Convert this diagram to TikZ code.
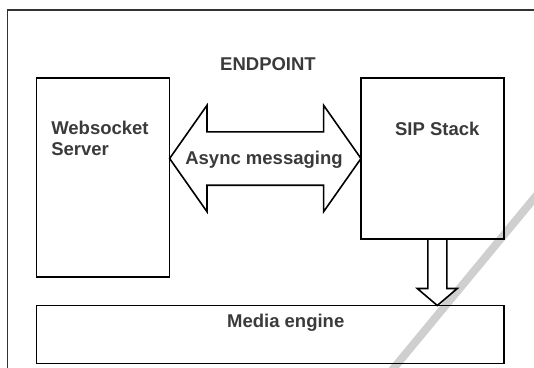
\documentclass[tikz,border=0pt]{standalone}
\usepackage{fontspec}
\setmainfont{Liberation Sans}
\usepackage{xcolor}
\usepackage{tikz}
\usetikzlibrary{positioning, calc}

\definecolor{labelgray}{HTML}{3A3A3A}
\definecolor{streakgray}{HTML}{CFCFCF}

\begin{document}
\begin{tikzpicture}[
      x=1pt, y=-1pt,
      font=\fontsize{18.5}{21}\selectfont\bfseries,
      box/.style={draw, rectangle, line width=1.6pt, inner sep=0pt,
          outer sep=0pt, anchor=north west},
      lbl/.style={text=labelgray, inner sep=0pt},
      fatarr/.style={draw, line width=1.6pt, line join=miter},
    ]
    \useasboundingbox (0,0) rectangle (534,367);
    \clip (0,0) rectangle (534,367);

    % light streak across the lower right
    \draw[streakgray, line width=8pt] (553,175.5) -- (384.5,379.3);

    % outer frame, cut off at right and bottom
    \draw[line width=1.8pt, black!80] (7.5,9.8) rectangle (600,420);

    \node[box, minimum width=133.2pt, minimum height=199.5pt] (ws) at (36.4,77.7) {};
    \node[box, minimum width=143pt, minimum height=161.3pt] (sip) at (361,77.7) {};
    \node[box, minimum width=467.6pt, minimum height=58pt] (media) at (36.4,305.5) {};

    \node[lbl, anchor=base] (endpt) at (268,70.7) {ENDPOINT};
    \node[lbl, align=left, below right=43pt and 14.7pt of ws.north west] (wslbl) {Websocket\\Server};
    \node[lbl, anchor=base] (siplbl) at (437.3,135) {SIP Stack};
    \node[lbl, anchor=base] (asynclbl) at (264,164.5) {Async messaging};
    \node[lbl, anchor=base] (medialbl) at (285.7,327.6) {Media engine};

    % double arrow between the servers
    \coordinate (msgy) at (0,158.5);
    \coordinate (dl) at (ws.east |- msgy);
    \coordinate (dr) at (sip.west |- msgy);
    \draw[fatarr] (dl) -- ++(37.4,-53.2) -- ++(0,26.5) -- ($(dr)+(-37.4,-26.7)$)
        -- ++(0,-26.5) -- (dr) -- ++(-37.4,53.2) -- ++(0,-26.5)
        -- ($(dl)+(37.4,26.7)$) -- ++(0,26.5) -- cycle;

    % arrow down to the media engine
    \coordinate (downx) at (437.3,0);
    \coordinate (st) at (sip.south -| downx);
    \coordinate (mt) at (media.north -| downx);
    \draw[fatarr] ($(st)+(-9.5,0)$) -- ($(mt)+(-9.5,-17)$) -- ++(-10.5,0) -- (mt)
        -- ++(20,-17) -- ++(-10.5,0) -- ($(st)+(9.5,0)$);

  \end{tikzpicture}
\end{document}
